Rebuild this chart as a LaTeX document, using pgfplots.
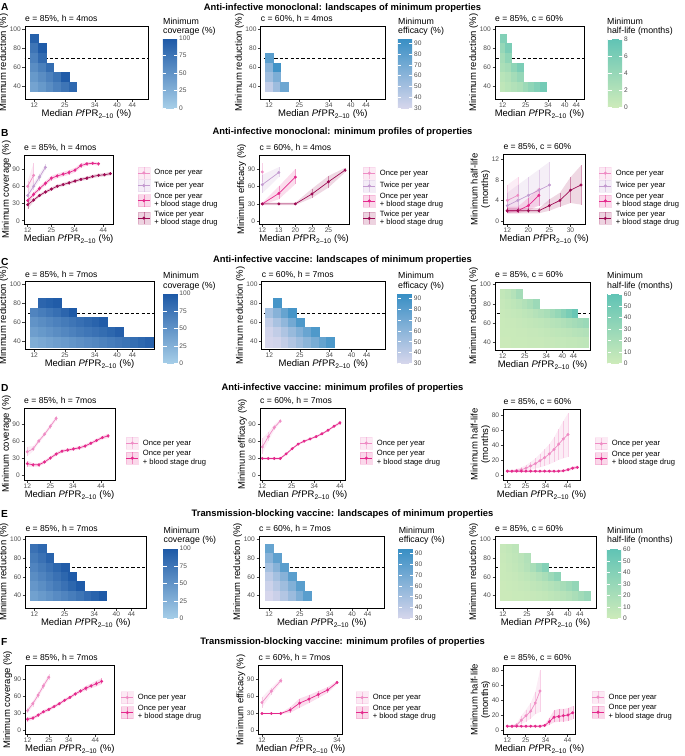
\documentclass[border=0pt]{standalone}
\usepackage{fontspec}
\setmainfont{Liberation Sans}
\usepackage{pgfplots}
\usepackage{pgfplotstable}
\pgfplotsset{compat=1.18}

\definecolor{pOnce}{HTML}{EE8CC4}
\definecolor{pTwice}{HTML}{C39BD0}
\definecolor{pOnceD}{HTML}{E4298C}
\definecolor{pTwiceD}{HTML}{9C0A52}
\definecolor{tickgrey}{HTML}{4D4D4D}

\newcommand{\tkf}{\fontsize{6.6}{7}\selectfont}
\newcommand{\labf}{\fontsize{9.5}{10.5}\selectfont}
\newcommand{\subf}{\fontsize{8.6}{10}\selectfont}
\newcommand{\lgf}{\fontsize{7.6}{8.2}\selectfont}
\newcommand{\ttlf}{\bfseries\fontsize{9.4}{11}\selectfont}
\newcommand{\cbtf}{\fontsize{8.8}{9.8}\selectfont}

\pgfplotsset{
  colormap={cov}{rgb255=(166,206,232) rgb255=(28,88,166)},
  colormap={eff}{rgb255=(214,214,236) rgb255=(54,142,196)},
  colormap={hl}{rgb255=(205,235,186) rgb255=(95,195,181)},
  pan/.style={scale only axis, anchor=north west,
    axis line style={line width=0.75pt, black},
    tick align=outside, tick pos=left, major tick length=2.5pt,
    tick style={line width=0.5pt, black!75},
    ticklabel style={font=\tkf, text=tickgrey},
    xticklabel style={inner sep=1pt}, yticklabel style={inner sep=1.5pt},
    label style={font=\labf},
    xlabel={Median \textit{Pf}PR\textsubscript{2--10} (\%)},
    xlabel style={inner sep=0pt, yshift=-1pt},
    ylabel style={inner sep=0pt, align=center},
    title style={at={(0,1)}, anchor=base west, font=\subf, inner sep=0pt, yshift=-1.5pt},
    /pgf/number format/assume math mode=true},
  land/.style={pan, ylabel={Minimum reduction (\%)}, ytick={40,60,80,100},
    xtick={0,4,7.9,10.8,12.8}, xticklabels={12,25,34,40,44}},
  cbar/.style={colorbar, colorbar style={at={(parent axis.north east)}, anchor=north west,
    scale only axis, width=14.5pt, axis line style={draw=none},
    tick align=inside, major tick length=3.5pt, ytick style={draw=white, line width=0.6pt},
    ytick pos=both, yticklabel pos=right,
    yticklabel style={font=\tkf, text=tickgrey, inner sep=1.5pt},
    /pgf/number format/assume math mode=true}},
  tiles/.style 2 args={scatter, only marks, scatter src=explicit, mark=square*,
    mark size=#1, mark options={yscale=#2}, line width=0.15pt,
    scatter/use mapped color={draw=mapped color, fill=mapped color}},
  dline/.style={black, line width=0.55pt, dash pattern=on 3.2pt off 2.2pt, forget plot},
  leg/.style 2 args={legend style={at={(#1,#2)}, anchor=north west, draw=none, fill=none,
    font=\lgf, inner sep=0pt, outer sep=0pt, row sep=0pt, column sep=3pt,
    cells={anchor=west, align=left}, nodes={inner sep=1.2pt}}, legend cell align=left},
}

\newcommand{\profline}[2]{%
  \addplot[#1, line width=0.7pt, mark=*, mark size=1.1pt,
    legend image code/.code={%
      \fill[#1, opacity=0.18] (0pt,-6pt) rectangle (12pt,6pt);
      \draw[#1, opacity=0.45, line width=0.4pt] (6pt,-6pt) -- (6pt,6pt);
      \draw[#1, line width=0.7pt] (0pt,0pt) -- (12pt,0pt);
      \fill[#1] (6pt,0pt) circle (1.2pt);},
    error bars/.cd, y dir=both, y explicit, error mark=none,
    error bar style={#1, line width=0.4pt, opacity=0.4}]
    table[x=x, y=y, y error plus expr=\thisrow{hi}-\thisrow{y},
          y error minus expr=\thisrow{y}-\thisrow{lo}]{#2};}
% ribbon polygon: hi forward, lo backward
\newcommand{\mkrib}[2]{%
  \pgfplotstablesort[sort key=x, sort cmp=float <]{#2}{#1}%
  \pgfplotstablecreatecol[expr={\thisrow{hi}}]{yy}{#2}%
  \pgfplotstablesort[sort key=x, sort cmp=float >]{\ribtmp}{#1}%
  \pgfplotstablecreatecol[expr={\thisrow{lo}}]{yy}{\ribtmp}%
  \pgfplotstablevertcat{#2}{\ribtmp}}
\newcommand{\prof}[3]{%
  \addplot[fill=#1, fill opacity=0.16, draw=none, forget plot] table[x=x, y=yy]{#3};
  \profline{#1}{#2}}

% ---------------- landscape tiles ----------------
\pgfplotstableread{
x y c
0 90 92
0 80 75
1 80 97
0 70 65
1 70 84
0 60 55
1 60 66
2 60 82
0 50 45
1 50 55
2 50 65
3 50 76
4 50 97
0 40 36
1 40 45
2 40 55
3 40 65
4 40 75
5 40 86
}\tAa
\pgfplotstableread{
x y c
0 70 80
0 60 62
1 60 90
0 50 52
1 50 66
0 40 38
1 40 53
2 40 72
}\tAb
\pgfplotstableread{
x y c
0 90 5.5
0 80 4
1 80 6
0 70 3
1 70 4.5
0 60 2.5
1 60 3
2 60 4.5
3 60 6
0 50 1.5
1 50 2
2 50 3
3 50 4
0 40 1
1 40 1.5
2 40 2
3 40 2.5
4 40 3.5
5 40 4.5
6 40 5.5
7 40 6.5
}\tAc
\pgfplotstableread{
x y c
1 80 88
2 80 92
3 80 96
0 70 62
1 70 68
2 70 74
3 70 80
4 70 88
5 70 98
0 60 50
1 60 55
2 60 60
3 60 65
4 60 70
5 60 75
6 60 80
7 60 85
8 60 90
9 60 96
0 50 40
1 50 45
2 50 50
3 50 55
4 50 60
5 50 65
6 50 70
7 50 74
8 50 78
9 50 82
10 50 87
11 50 93
0 40 28
1 40 32
2 40 36
3 40 40
4 40 44
5 40 48
6 40 52
7 40 56
8 40 60
9 40 64
10 40 68
11 40 72
12 40 76
13 40 81
14 40 86
15 40 91
}\tCa
\pgfplotstableread{
x y c
1 80 88
0 70 50
1 70 62
2 70 75
3 70 88
0 60 38
1 60 48
2 60 58
3 60 70
4 60 85
0 50 32
1 50 38
2 50 46
3 50 55
4 50 64
5 50 74
6 50 85
0 40 30
1 40 32
2 40 38
3 40 45
4 40 52
5 40 60
6 40 68
7 40 76
8 40 85
}\tCb
\pgfplotstableread{
x y c
0 90 6
1 90 9
2 90 14
3 90 22
0 80 4
1 80 6
2 80 8
3 80 11
4 80 15
5 80 20
6 80 27
0 70 3
1 70 4
2 70 5
3 70 6
4 70 8
5 70 10
6 70 13
7 70 16
8 70 20
9 70 25
10 70 31
11 70 38
12 70 46
13 70 55
0 60 2
1 60 3
2 60 3
3 60 4
4 60 5
5 60 6
6 60 7
7 60 8
8 60 10
9 60 12
10 60 14
11 60 16
12 60 19
13 60 22
14 60 25
15 60 28
0 50 2
1 50 2
2 50 2
3 50 3
4 50 3
5 50 4
6 50 4
7 50 5
8 50 6
9 50 7
10 50 8
11 50 9
12 50 10
13 50 12
14 50 13
15 50 15
0 40 1
1 40 1
2 40 2
3 40 2
4 40 2
5 40 3
6 40 3
7 40 3
8 40 4
9 40 4
10 40 5
11 40 5
12 40 6
13 40 6
14 40 7
15 40 8
}\tCc
\pgfplotstableread{
x y c
0 90 78
1 90 86
0 80 70
1 80 78
2 80 90
0 70 62
1 70 70
2 70 78
3 70 87
4 70 96
0 60 55
1 60 62
2 60 70
3 60 78
4 60 87
5 60 97
0 50 47
1 50 54
2 50 62
3 50 70
4 50 78
5 50 87
6 50 97
0 40 38
1 40 44
2 40 50
3 40 56
4 40 62
5 40 68
6 40 75
7 40 83
8 40 90
9 40 98
}\tEa
\pgfplotstableread{
x y c
0 90 75
0 80 62
1 80 78
0 70 50
1 70 62
2 70 80
0 60 40
1 60 50
2 60 62
3 60 80
0 50 34
1 50 42
2 50 52
3 50 64
4 50 80
0 40 30
1 40 35
2 40 44
3 40 54
4 40 66
5 40 80
}\tEb
\pgfplotstableread{
x y c
0 90 4
1 90 6
2 90 9
0 80 3
1 80 5
2 80 7
3 80 10
4 80 15
0 70 2
1 70 4
2 70 6
3 70 9
4 70 13
5 70 20
6 70 30
7 70 40
0 60 2
1 60 3
2 60 4
3 60 6
4 60 8
5 60 11
6 60 15
7 60 20
8 60 27
9 60 35
0 50 1
1 50 2
2 50 3
3 50 4
4 50 5
5 50 7
6 50 9
7 50 11
8 50 14
9 50 17
10 50 21
11 50 26
12 50 32
0 40 1
1 40 1
2 40 2
3 40 2
4 40 3
5 40 4
6 40 5
7 40 6
8 40 8
9 40 10
10 40 12
11 40 15
12 40 19
13 40 24
14 40 30
}\tEc

% ---------------- profiles ----------------
\pgfplotstableread{
x y lo hi
0 60 50 70
1 79 66 100
}\tBa
\pgfplotstableread{
x y lo hi
0 44 38 50
1 60 54 66
2 76 70 82
3 93 88 98
}\tBb
\pgfplotstableread{
x y lo hi
0 35 31 39
1 46 42 50
2 56 52 60
3 65 61 69
4 74 70 78
5 78 74 82
6 81 77 85
7 84 80 88
8 88 84 92
9 96 92 100
10 99 96 102
11 100 97 103
12 99 96 102
}\tBc
\pgfplotstableread{
x y lo hi
0 28 20 36
1 36 33 39
2 44 41 47
3 50 47 53
4 55 52 58
5 60 57 63
6 63 60 66
7 66 63 69
8 69 66 72
9 72 69 75
10 74 71 77
11 77 74 80
12 79 76 82
13 80 77 83
14 82 79 85
}\tBd
\pgfplotstableread{
x y lo hi
0 85 68 100
}\tBBa
\pgfplotstableread{
x y lo hi
0 63 48 80
1 84 76 93
}\tBBb
\pgfplotstableread{
x y lo hi
0 30 28 32
1 48 38 60
2 76 64 90
}\tBBc
\pgfplotstableread{
x y lo hi
0 30 28 32
1 30 28 32
2 30 28 32
3 47 40 56
4 68 58 78
5 88 84 92
}\tBBd
\pgfplotstableread{
x y lo hi
0 4 1.5 7
1 5 2 8.5
}\tBCa
\pgfplotstableread{
x y lo hi
0 3 1.5 5.5
1 4 2 7
2 5 2.5 8.5
3 6 3 10
4 7 3.5 11.5
}\tBCb
\pgfplotstableread{
x y lo hi
0 2 1.5 2.8
1 2 1.5 2.8
2 3 2 4.5
3 5 3 6.5
}\tBCc
\pgfplotstableread{
x y lo hi
0 2 1.5 2.5
1 2 1.5 2.5
2 2 1.5 2.5
3 2 1.5 2.5
4 3 2 4.2
5 4 2.8 5.5
6 6 3.5 8.5
7 7 3.2 10.8
}\tBCd
\pgfplotstableread{
x y lo hi
0 41 33 50
1 46 42 51
2 60 56 64
3 72 68 76
4 86 82 90
5 100 96 104
}\tDa
\pgfplotstableread{
x y lo hi
0 20 15 25
1 18 15 21
2 18 15 21
3 23 20 26
4 30 27 33
5 37 34 40
6 42 39 45
7 44 41 47
8 46 43 49
9 48 45 51
10 51 48 54
11 56 53 59
12 61 58 64
13 66 63 69
14 69 65 73
}\tDb
\pgfplotstableread{
x y lo hi
0 50 38 65
1 68 60 76
2 84 79 89
3 95 92 98
}\tDDa
\pgfplotstableread{
x y lo hi
0 30 28 32
1 30 28 32
2 30 28 32
3 30 28 32
4 38 36 40
5 47 45 49
6 55 53 57
7 60 58 62
8 64 62 66
9 68 66 70
10 73 71 75
11 79 77 81
12 86 84 88
13 92 89 95
}\tDDb
\pgfplotstableread{
x y lo hi
0 6 5 7
1 6 4.5 7.5
2 7 5 9
3 8 5.5 11
4 10 6.5 14
5 13 8 18
6 16 9.5 23
7 20 11 29
8 24 13 35
9 29 15 42
10 35 18 51
11 42 21 62
12 49 23 73
13 55 25 83
}\tDCa
\pgfplotstableread{
x y lo hi
0 6 4.5 7.5
1 6 4.5 7.5
2 6 4.5 7.5
3 6 4.5 7.5
4 6 4.5 7.5
5 6 4.5 7.5
6 6 4.5 7.5
7 6 4.5 7.5
8 6 4.5 7.5
9 6 4.5 7.5
10 6 4.5 7.5
11 6 4.5 7.5
12 6.5 5 8
13 8 6 10
14 10 8 12
15 11 9 13.5
}\tDCb
\pgfplotstableread{
x y lo hi
0 35 30 40
1 47 42 52
2 62 57 67
3 78 73 83
4 93 88 98
}\tFa
\pgfplotstableread{
x y lo hi
0 20 16 24
1 22 19 25
2 27 24 30
3 33 30 36
4 37 34 40
5 42 39 45
6 47 44 50
7 53 50 56
8 58 55 61
9 64 61 67
10 69 66 72
11 74 70 78
12 78 74 82
13 82 77 87
14 86 81 91
}\tFb
\pgfplotstableread{
x y lo hi
0 49 40 58
1 69 63 75
2 87 83 91
}\tFFa
\pgfplotstableread{
x y lo hi
0 30 29 31
1 30 29 31
2 30 29 31
3 36 31 41
4 48 40 56
5 55 48 62
6 63 57 69
7 71 66 76
8 84 81 87
}\tFFb
\pgfplotstableread{
x y lo hi
0 6 5 7
1 6 5 7.5
2 7.5 5.5 10
3 14 9 20
4 20 12 28
5 26 16 37
6 37 22 52
7 53 25 81
}\tFCa
\pgfplotstableread{
x y lo hi
0 6 4.5 7.5
1 6 4.5 7.5
2 6 4.5 7.5
3 6 4.5 7.5
4 6 4.5 7.5
5 6 4.5 7.5
6 6 4.5 7.5
7 6 4.5 7.5
8 7 5 9
9 12 8 17
10 18 11 27
11 19 12 29
12 20 12 29
13 21 13 30
14 24 15 33
}\tFCb

\mkrib{\tBa}{\rBa}\mkrib{\tBb}{\rBb}\mkrib{\tBc}{\rBc}\mkrib{\tBd}{\rBd}
\mkrib{\tBBb}{\rBBb}\mkrib{\tBBc}{\rBBc}\mkrib{\tBBd}{\rBBd}
\mkrib{\tBCa}{\rBCa}\mkrib{\tBCb}{\rBCb}\mkrib{\tBCc}{\rBCc}\mkrib{\tBCd}{\rBCd}
\mkrib{\tDa}{\rDa}\mkrib{\tDb}{\rDb}\mkrib{\tDDa}{\rDDa}\mkrib{\tDDb}{\rDDb}
\mkrib{\tDCa}{\rDCa}\mkrib{\tDCb}{\rDCb}
\mkrib{\tFa}{\rFa}\mkrib{\tFb}{\rFb}\mkrib{\tFFa}{\rFFa}\mkrib{\tFFb}{\rFFb}
\mkrib{\tFCa}{\rFCa}\mkrib{\tFCb}{\rFCb}

\begin{document}
\begin{tikzpicture}
\useasboundingbox (0pt,0pt) rectangle (685pt,-756pt);

% ---------- letters and titles ----------
\foreach \lt/\yy in {A/10, B/136, C/265, D/391, E/517, F/645}{
  \node[anchor=base west, inner sep=0pt, font=\bfseries\fontsize{10.2}{12}\selectfont] at (1pt,-\yy pt) {\lt};}
\node[anchor=base, inner sep=0pt, font=\ttlf] at (342.5pt,-10pt) {Anti-infective monoclonal: landscapes of minimum properties};
\node[anchor=base, inner sep=0pt, font=\ttlf] at (342.5pt,-134.5pt) {Anti-infective monoclonal: minimum profiles of properties};
\node[anchor=base, inner sep=0pt, font=\ttlf] at (342.5pt,-262pt) {Anti-infective vaccine: landscapes of minimum properties};
\node[anchor=base, inner sep=0pt, font=\ttlf] at (342.5pt,-390pt) {Anti-infective vaccine: minimum profiles of properties};
\node[anchor=base, inner sep=0pt, font=\ttlf] at (342.5pt,-516pt) {Transmission-blocking vaccine: landscapes of minimum properties};
\node[anchor=base, inner sep=0pt, font=\ttlf] at (342.5pt,-644pt) {Transmission-blocking vaccine: minimum profiles of properties};

% colorbar titles
\foreach \xx/\yy/\cbn in {163/17.5/coverage (\%), 398/17.5/efficacy (\%), 607/17.5/half-life (months),
  163/272/coverage (\%), 398/272/efficacy (\%), 607/272/half-life (months),
  163.5/526.5/coverage (\%), 398.7/526.5/efficacy (\%), 607/526.5/half-life (months)}{
  \node[anchor=north west, inner sep=0pt, align=left, font=\cbtf] at (\xx pt,-\yy pt) {Minimum\\\cbn};}

% ================= ROW A =================
\begin{axis}[land, at={(25pt,-26pt)}, width=123pt, height=73pt,
  xmin=-1.2, xmax=14.84, ymin=27.1, ymax=103.4, title={e = 85\%, h = 4mos},
  colormap name=cov, point meta min=0, point meta max=100, cbar,
  colorbar style={height=70pt, xshift=6.46pt, yshift=-12pt, ytick={0,25,50,75,100}}]
\addplot[tiles={3.93}{1.241}] table[x=x,y=y,meta=c]{\tAa};
\addplot[dline] coordinates {(-5,70) (20,70)};
\end{axis}
\begin{axis}[land, at={(260.7pt,-26pt)}, width=124.3pt, height=73pt,
  xmin=-1.1, xmax=15.3, ymin=27.1, ymax=103.4, title={c = 60\%, h = 4mos},
  colormap name=eff, point meta min=30, point meta max=95, cbar,
  colorbar style={height=70pt, xshift=4.46pt, yshift=-12pt, ytick={30,40,...,90}}]
\addplot[tiles={3.89}{1.256}] table[x=x,y=y,meta=c]{\tAb};
\addplot[dline] coordinates {(-5,70) (20,70)};
\end{axis}
\begin{axis}[land, at={(495pt,-26pt)}, width=89pt, height=73pt,
  xmin=-1.34, xmax=14.14, ymin=27.1, ymax=103.4, title={e = 85\%, c = 60\%},
  colormap name=hl, point meta min=0, point meta max=8.1, cbar,
  colorbar style={height=69pt, xshift=15.46pt, yshift=-12pt, ytick={0,2,4,6,8}}]
\addplot[tiles={2.98}{1.642}] table[x=x,y=y,meta=c]{\tAc};
\addplot[dline] coordinates {(-5,70) (20,70)};
\end{axis}

% ================= ROW B =================
\begin{axis}[pan, at={(24pt,-155pt)}, width=89.3pt, height=69pt,
  xmin=-0.63, xmax=14.5, ymin=-5.7, ymax=114.4, xtick={0,4,7.9,12.8}, xticklabels={12,25,34,44},
  ytick={0,30,60,90}, ylabel={Minimum coverage (\%)}, title={e = 85\%, h = 4mos}, leg={1.271}{0.833}]
\prof{pOnce}{\tBa}{\rBa}\addlegendentry{Once per year}
\prof{pTwice}{\tBb}{\rBb}\addlegendentry{Twice per year}
\prof{pOnceD}{\tBc}{\rBc}\addlegendentry{Once per year\\+ blood stage drug}
\prof{pTwiceD}{\tBd}{\rBd}\addlegendentry{Twice per year\\+ blood stage drug}
\end{axis}
\begin{axis}[pan, at={(259.3pt,-155pt)}, width=89.7pt, height=69pt,
  xmin=-0.18, xmax=5.24, ymin=-4.6, ymax=114, xtick={0,1,2,3,4}, xticklabels={12,13,20,22,25},
  ytick={0,30,60,90}, ylabel={Minimum efficacy (\%)}, title={c = 60\%, h = 4mos}, leg={1.156}{0.829}]
\profline{pOnce}{\tBBa}\addlegendentry{Once per year}
\prof{pTwice}{\tBBb}{\rBBb}\addlegendentry{Twice per year}
\prof{pOnceD}{\tBBc}{\rBBc}\addlegendentry{Once per year\\+ blood stage drug}
\prof{pTwiceD}{\tBBd}{\rBBd}\addlegendentry{Twice per year\\+ blood stage drug}
\end{axis}
\begin{axis}[pan, at={(503.3pt,-154.3pt)}, width=81.7pt, height=70pt,
  xmin=-0.38, xmax=7.38, ymin=-0.64, ymax=12.97, xtick={0,2,4,6}, xticklabels={12,20,25,30},
  ytick={0,4,8,12}, ylabel={Minimum half-life\\(months)}, title={e = 85\%, c = 60\%}, leg={1.171}{0.821}]
\prof{pOnce}{\tBCa}{\rBCa}\addlegendentry{Once per year}
\prof{pTwice}{\tBCb}{\rBCb}\addlegendentry{Twice per year}
\prof{pOnceD}{\tBCc}{\rBCc}\addlegendentry{Once per year\\+ blood stage drug}
\prof{pTwiceD}{\tBCd}{\rBCd}\addlegendentry{Twice per year\\+ blood stage drug}
\end{axis}

% ================= ROW C =================
\begin{axis}[land, at={(25pt,-281.7pt)}, width=129pt, height=67.6pt,
  xmin=-1.2, xmax=15.6, ymin=32.1, ymax=102.4, title={e = 85\%, h = 7mos},
  colormap name=cov, point meta min=0, point meta max=100, cbar,
  colorbar style={height=70pt, xshift=0.76pt, yshift=-11.6pt, ytick={0,25,50,75,100}}]
\addplot[tiles={3.94}{1.246}] table[x=x,y=y,meta=c]{\tCa};
\addplot[dline] coordinates {(-5,70) (20,70)};
\end{axis}
\begin{axis}[land, at={(261.7pt,-281.7pt)}, width=123.3pt, height=67.6pt,
  xmin=-1.0, xmax=15.2, ymin=32.1, ymax=102.4, title={c = 60\%, h = 7mos},
  colormap name=eff, point meta min=30, point meta max=95, cbar,
  colorbar style={height=70pt, xshift=4.16pt, yshift=-11.6pt, ytick={30,40,...,90}}]
\addplot[tiles={3.9}{1.257}] table[x=x,y=y,meta=c]{\tCb};
\addplot[dline] coordinates {(-5,70) (20,70)};
\end{axis}
\begin{axis}[land, at={(495pt,-282.3pt)}, width=95pt, height=67.7pt,
  xmin=-1.4, xmax=15.8, ymin=32.1, ymax=102.4, title={e = 85\%, c = 60\%},
  colormap name=hl, point meta min=0, point meta max=61, cbar,
  colorbar style={height=70pt, xshift=9.16pt, yshift=-11pt, ytick={0,10,...,60}}]
\addplot[tiles={2.86}{1.718}] table[x=x,y=y,meta=c]{\tCc};
\addplot[dline] coordinates {(-5,70) (20,70)};
\end{axis}

% ================= ROW D =================
\begin{axis}[pan, at={(24pt,-408.3pt)}, width=91pt, height=71.7pt,
  xmin=-0.57, xmax=15.2, ymin=-8.8, ymax=117.7, xtick={0,4,7.9,12.8}, xticklabels={12,25,34,44},
  ytick={0,30,60,90}, ylabel={Minimum coverage (\%)}, title={e = 85\%, h = 7mos}, leg={1.121}{0.603}]
\prof{pOnce}{\tDa}{\rDa}\addlegendentry{Once per year}
\prof{pOnceD}{\tDb}{\rDb}\addlegendentry{Once per year\\+ blood stage drug}
\end{axis}
\begin{axis}[pan, at={(260pt,-408.3pt)}, width=85pt, height=71.7pt,
  xmin=-0.39, xmax=13.85, ymin=-7.5, ymax=117.3, xtick={0,4.92,8.71,13}, xticklabels={12,25,34,44},
  ytick={0,30,60,90}, ylabel={Minimum efficacy (\%)}, title={c = 60\%, h = 7mos}, leg={1.176}{0.603}]
\prof{pOnce}{\tDDa}{\rDDa}\addlegendentry{Once per year}
\prof{pOnceD}{\tDDb}{\rDDb}\addlegendentry{Once per year\\+ blood stage drug}
\end{axis}
\begin{axis}[pan, at={(503.3pt,-409pt)}, width=76.7pt, height=71pt,
  xmin=-0.86, xmax=15.57, ymin=-5.8, ymax=88.9, xtick={0,3.93,8.2,12.9}, xticklabels={12,25,34,44},
  ytick={0,20,40,60,80}, ylabel={Minimum half-life\\(months)}, title={e = 85\%, c = 60\%}, leg={1.196}{0.60}]
\prof{pOnce}{\tDCa}{\rDCa}\addlegendentry{Once per year}
\prof{pOnceD}{\tDCb}{\rDCb}\addlegendentry{Once per year\\+ blood stage drug}
\end{axis}

% ================= ROW E =================
\begin{axis}[land, at={(25.3pt,-536pt)}, width=121pt, height=72pt,
  xmin=-1.2, xmax=14.76, ymin=26.9, ymax=103.5, title={e = 85\%, h = 7mos},
  colormap name=cov, point meta min=0, point meta max=100, cbar,
  colorbar style={height=70pt, xshift=8.66pt, yshift=-12.3pt, ytick={0,25,50,75,100}}]
\addplot[tiles={3.89}{1.234}] table[x=x,y=y,meta=c]{\tEa};
\addplot[dline] coordinates {(-5,70) (20,70)};
\end{axis}
\begin{axis}[land, at={(259pt,-536pt)}, width=125.5pt, height=72pt,
  xmin=-1.3, xmax=15.0, ymin=26.9, ymax=103.5, title={c = 60\%, h = 7mos},
  colormap name=eff, point meta min=30, point meta max=95, cbar,
  colorbar style={height=70pt, xshift=5.66pt, yshift=-12.3pt, ytick={30,40,...,90}}]
\addplot[tiles={3.95}{1.215}] table[x=x,y=y,meta=c]{\tEb};
\addplot[dline] coordinates {(-5,70) (20,70)};
\end{axis}
\begin{axis}[land, at={(495pt,-536pt)}, width=101pt, height=72pt,
  xmin=-1.33, xmax=15.5, ymin=26.9, ymax=103.5, title={e = 85\%, c = 60\%},
  colormap name=hl, point meta min=0, point meta max=61, cbar,
  colorbar style={height=70pt, xshift=2.46pt, yshift=-12.3pt, ytick={0,10,...,60}}]
\addplot[tiles={3.1}{1.548}] table[x=x,y=y,meta=c]{\tEc};
\addplot[dline] coordinates {(-5,70) (20,70)};
\end{axis}

% ================= ROW F =================
\begin{axis}[pan, at={(25.3pt,-665pt)}, width=89.1pt, height=69.5pt,
  xmin=-0.42, xmax=16.4, ymin=-6.6, ymax=114.4, xtick={0,4.05,7.77,12.8}, xticklabels={12,25,34,44},
  ytick={0,30,60,90}, ylabel={Minimum coverage (\%)}, title={e = 85\%, h = 7mos}, leg={1.074}{0.623}]
\prof{pOnce}{\tFa}{\rFa}\addlegendentry{Once per year}
\prof{pOnceD}{\tFb}{\rFb}\addlegendentry{Once per year\\+ blood stage drug}
\end{axis}
\begin{axis}[pan, at={(258.5pt,-665pt)}, width=84.3pt, height=69.5pt,
  xmin=-0.37, xmax=8.61, ymin=-6.6, ymax=114.4, xtick={0,4,8}, xticklabels={12,25,34},
  ytick={0,30,60,90}, ylabel={Minimum efficacy (\%)}, title={c = 60\%, h = 7mos}, leg={1.155}{0.623}]
\prof{pOnce}{\tFFa}{\rFFa}\addlegendentry{Once per year}
\prof{pOnceD}{\tFFb}{\rFFb}\addlegendentry{Once per year\\+ blood stage drug}
\end{axis}
\begin{axis}[pan, at={(503.3pt,-665pt)}, width=72.4pt, height=69.3pt,
  xmin=-0.86, xmax=14.64, ymin=-4.8, ymax=87.6, xtick={0,3.93,8.2,12.9}, xticklabels={12,25,34,44},
  ytick={0,20,40,60,80}, ylabel={Minimum half-life\\(months)}, title={e = 85\%, c = 60\%}, leg={1.221}{0.628}]
\prof{pOnce}{\tFCa}{\rFCa}\addlegendentry{Once per year}
\prof{pOnceD}{\tFCb}{\rFCb}\addlegendentry{Once per year\\+ blood stage drug}
\end{axis}
\end{tikzpicture}
\end{document}
